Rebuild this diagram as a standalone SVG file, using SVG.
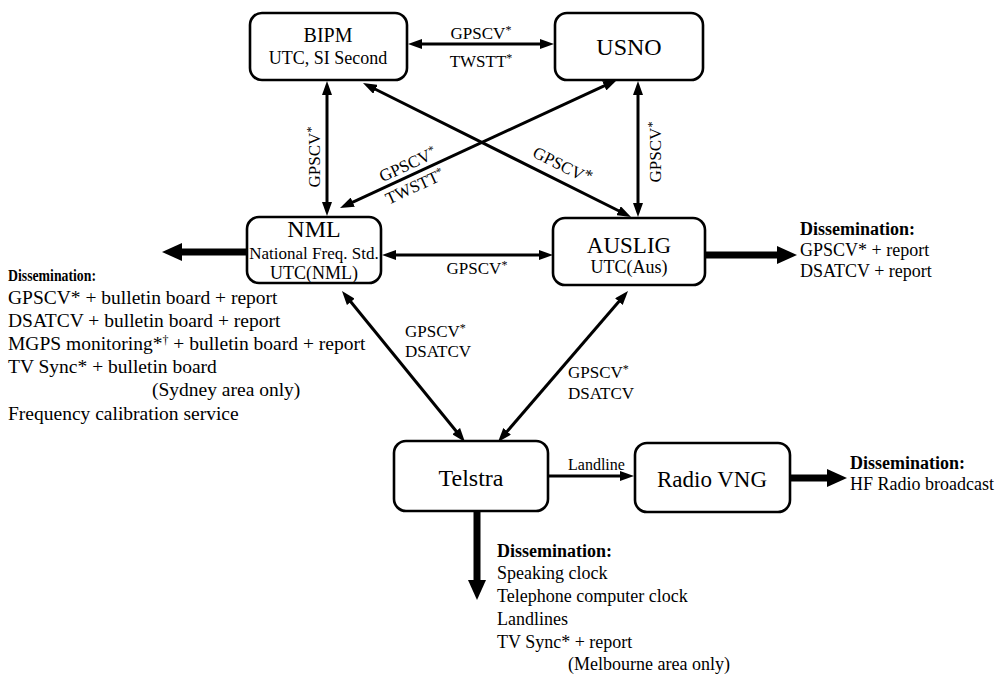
<svg xmlns="http://www.w3.org/2000/svg" width="1005" height="674" viewBox="0 0 1005 674">
<style>
.box{fill:#fff;stroke:#000;stroke-width:2.6}
text{font-family:"Liberation Serif","Times New Roman",serif;fill:#000}
.sub{font-size:18px;text-anchor:middle}
.lab{font-size:17px}
.ds{font-size:18px}
.dl{font-size:19.5px}
.hd{font-size:18px;font-weight:bold}
.thin{stroke:#000;stroke-width:3;fill:none}
.thick{stroke:#000;stroke-width:7;fill:none}
.sup{font-size:12px}
</style>
<defs>
<marker id="ah" markerUnits="userSpaceOnUse" markerWidth="14" markerHeight="10" refX="4" refY="5" orient="auto-start-reverse"><path d="M0,0 L14,5 L0,10 z" fill="#000"/></marker>
<marker id="ahb" markerUnits="userSpaceOnUse" markerWidth="20" markerHeight="18" refX="6" refY="9" orient="auto"><path d="M0,0 L20,9 L0,18 z" fill="#000"/></marker>
</defs>
<rect width="1005" height="674" fill="#fff"/>

<g id="connectors">
<line class="thin" x1="418" y1="44" x2="544" y2="44" marker-start="url(#ah)" marker-end="url(#ah)"/>
<line class="thin" x1="327" y1="91" x2="327" y2="206" marker-start="url(#ah)" marker-end="url(#ah)"/>
<line class="thin" x1="638" y1="91" x2="638" y2="207" marker-start="url(#ah)" marker-end="url(#ah)"/>
<line class="thin" x1="371.9" y1="87.5" x2="622.1" y2="212.5" marker-start="url(#ah)" marker-end="url(#ah)"/>
<line class="thin" x1="607.9" y1="84.2" x2="349.1" y2="203.8" marker-start="url(#ah)" marker-end="url(#ah)"/>
<line class="thin" x1="392" y1="255" x2="543" y2="255" marker-start="url(#ah)" marker-end="url(#ah)"/>
<line class="thin" x1="348.3" y1="298.8" x2="458.7" y2="434.2" marker-start="url(#ah)" marker-end="url(#ah)"/>
<line class="thin" x1="621.5" y1="298.6" x2="504.5" y2="434.4" marker-start="url(#ah)" marker-end="url(#ah)"/>
<line class="thin" x1="548" y1="476" x2="624" y2="476" marker-end="url(#ah)"/>
<line class="thick" x1="247" y1="252" x2="176" y2="252" marker-end="url(#ahb)"/>
<line class="thick" x1="705" y1="255" x2="783" y2="255" marker-end="url(#ahb)"/>
<line class="thick" x1="790" y1="478" x2="833" y2="478" marker-end="url(#ahb)"/>
<line class="thick" x1="477" y1="512" x2="477" y2="586" marker-end="url(#ahb)"/>

<text class="lab" x="481" y="39" text-anchor="middle">GPSCV<tspan class="sup" dy="-5">*</tspan></text>
<text class="lab" x="481" y="67" text-anchor="middle">TWSTT<tspan class="sup" dy="-5">*</tspan></text>
<text class="lab" transform="translate(320,157) rotate(-90)" text-anchor="middle">GPSCV<tspan class="sup" dy="-5">*</tspan></text>
<text class="lab" transform="translate(661,152) rotate(-90)" text-anchor="middle">GPSCV<tspan class="sup" dy="-5">*</tspan></text>
<text class="lab" transform="translate(562,166) rotate(26.6)" y="5" text-anchor="middle">GPSCV<tspan dy="-3">*</tspan></text>
<text class="lab" transform="translate(408,165) rotate(-24.8)" y="5" text-anchor="middle">GPSCV<tspan class="sup" dy="-5">*</tspan></text>
<text class="lab" transform="translate(415,187) rotate(-24.8)" y="5" text-anchor="middle">TWSTT<tspan class="sup" dy="-5">*</tspan></text>
<text class="lab" x="477" y="274" text-anchor="middle">GPSCV<tspan class="sup" dy="-5">*</tspan></text>
<text class="lab" x="405" y="337">GPSCV<tspan class="sup" dy="-5">*</tspan></text>
<text class="lab" x="405" y="357">DSATCV</text>
<text class="lab" x="568" y="378">GPSCV<tspan class="sup" dy="-5">*</tspan></text>
<text class="lab" x="568" y="399">DSATCV</text>
<text class="lab" x="568" y="470" style="font-size:16px">Landline</text>
</g>

<g id="bipm">
<rect class="box" x="250" y="13" width="157" height="67" rx="12"/>
<text x="328" y="42" text-anchor="middle" style="font-family:'Liberation Serif',serif;font-size:20px">BIPM</text>
<text class="sub" x="328" y="64">UTC, SI Second</text>
</g>
<g id="usno">
<rect class="box" x="555" y="13" width="148" height="67" rx="12"/>
<text x="629" y="55" text-anchor="middle" style="font-family:'Liberation Serif',serif;font-size:24px">USNO</text>
</g>
<g id="nml">
<rect class="box" x="247" y="217" width="134" height="66" rx="12"/>
<text x="314" y="237" text-anchor="middle" style="font-family:'Liberation Serif',serif;font-size:24px">NML</text>
<text class="sub" x="314" y="259" style="font-size:17px">National Freq. Std.</text>
<text class="sub" x="314" y="279">UTC(NML)</text>
</g>
<g id="auslig">
<rect class="box" x="553" y="218" width="152" height="67" rx="12"/>
<text x="629" y="253" text-anchor="middle" style="font-family:'Liberation Serif',serif;font-size:23px">AUSLIG</text>
<text class="sub" x="629" y="273">UTC(Aus)</text>
</g>
<g id="telstra">
<rect class="box" x="394" y="441" width="154" height="70" rx="12"/>
<text x="471" y="486" text-anchor="middle" style="font-family:'Liberation Serif',serif;font-size:24px">Telstra</text>
</g>
<g id="radiovng">
<rect class="box" x="635" y="443" width="155" height="69" rx="12"/>
<text x="712" y="487" text-anchor="middle" style="font-family:'Liberation Serif',serif;font-size:23px">Radio VNG</text>
</g>

<g id="nml-dissemination">
<text class="hd" x="8" y="281" style="font-size:16px" textLength="88" lengthAdjust="spacingAndGlyphs">Dissemination:</text>
<text class="dl" x="8" y="304">GPSCV* + bulletin board + report</text>
<text class="dl" x="8" y="327">DSATCV + bulletin board + report</text>
<text class="dl" x="8" y="350">MGPS monitoring*<tspan class="sup" dy="-6">†</tspan><tspan dy="6"> + bulletin board + report</tspan></text>
<text class="dl" x="8" y="373">TV Sync* + bulletin board</text>
<text class="dl" x="152" y="396">(Sydney area only)</text>
<text class="dl" x="8" y="420">Frequency calibration service</text>
</g>
<g id="auslig-dissemination">
<text class="hd" x="800" y="235">Dissemination:</text>
<text class="ds" x="800" y="256">GPSCV* + report</text>
<text class="ds" x="800" y="277">DSATCV + report</text>
</g>
<g id="radio-dissemination">
<text class="hd" x="850" y="469">Dissemination:</text>
<text class="ds" x="850" y="490">HF Radio broadcast</text>
</g>
<g id="telstra-dissemination">
<text class="hd" x="497" y="557">Dissemination:</text>
<text class="ds" x="497" y="579">Speaking clock</text>
<text class="ds" x="497" y="602">Telephone computer clock</text>
<text class="ds" x="497" y="625">Landlines</text>
<text class="ds" x="497" y="648">TV Sync* + report</text>
<text class="ds" x="568" y="670">(Melbourne area only)</text>
</g>
</svg>
